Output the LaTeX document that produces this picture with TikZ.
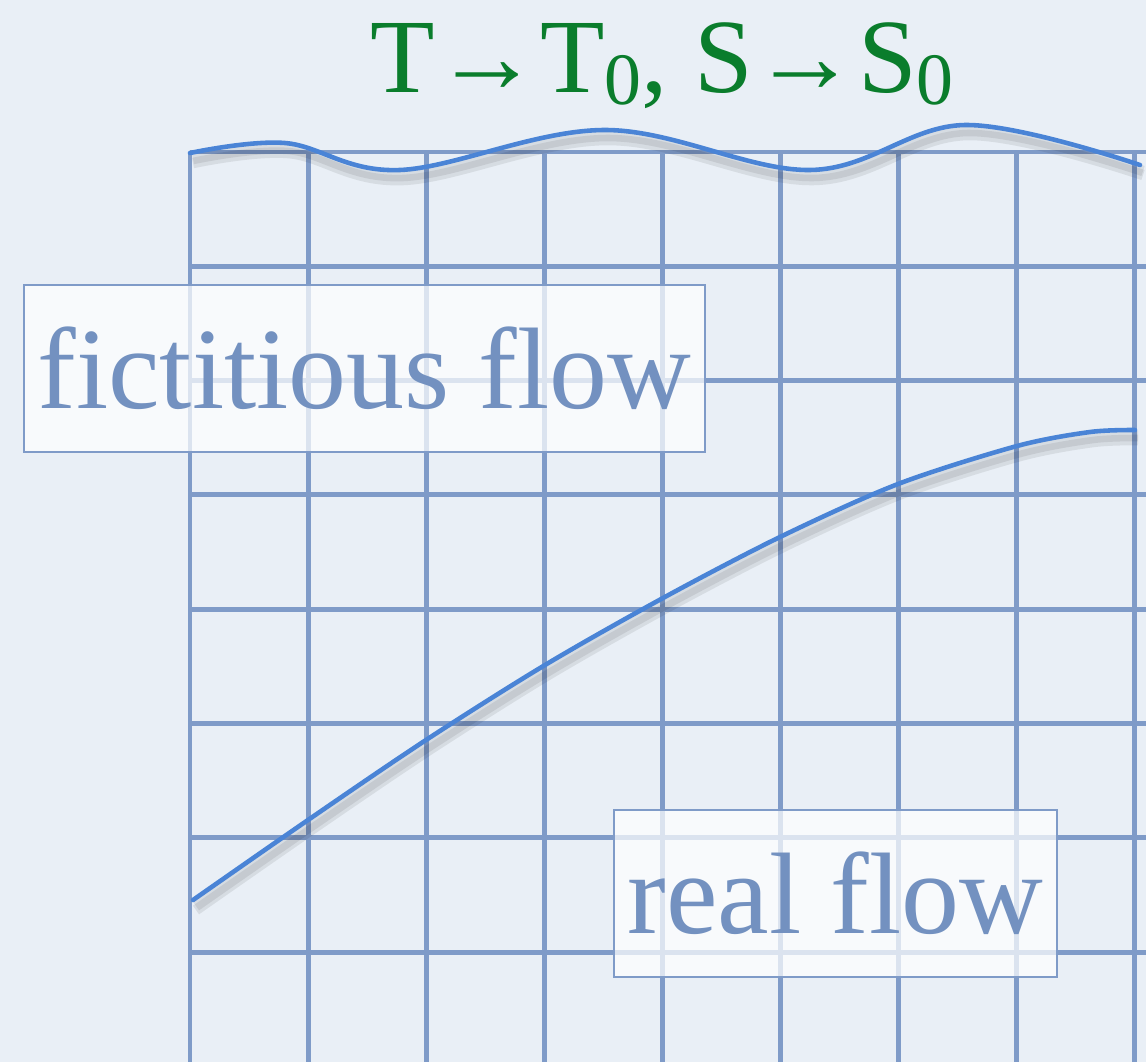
\documentclass[tikz,border=0pt]{standalone}
\usepackage{fontspec}
\setmainfont{Liberation Serif}
\usepackage{tikz}
\definecolor{paper}{HTML}{E9EFF6}
\definecolor{gridline}{HTML}{7F9BC8}
\definecolor{flowline}{HTML}{4A84D6}
\definecolor{labeltext}{HTML}{7391C0}
\definecolor{titlegreen}{HTML}{0A7D2C}

\begin{document}
\begin{tikzpicture}[
        x=0.2mm,y=-0.2mm,
        gridln/.style={draw=gridline,line width=2.8pt},
        flow/.style={draw=flowline,line width=2.6pt,line cap=round},
        shade/.style={draw=black,opacity=0.08,line width=6pt},
        tag/.style={draw=gridline,line width=1.2pt,fill=white,fill opacity=0.72,
          text opacity=1,text=labeltext,inner sep=0pt,minimum height=33.4mm,
          font=\fontsize{66}{66}\selectfont}
      ]
      \fill[paper] (0,0) rectangle (1146,1062);
      \useasboundingbox (0,0) rectangle (1146,1062);
      % grid
      \foreach \i in {0,...,8}
        \draw[gridln] (190+118.1*\i,152) -- (190+118.1*\i,1062);
      \foreach \j in {0,...,7}
        \draw[gridln] (190,152+114.3*\j) -- (1146,152+114.3*\j);
      % free surface
      \foreach \s in {6,10}
        \draw[shade,shift={(3,\s)}] plot[smooth,tension=0.6] coordinates
          {(190,153) (285,143) (400,170) (605,130) (810,170) (965,125) (1140,165)};
      \draw[flow] plot[smooth,tension=0.6] coordinates
        {(190,153) (285,143) (400,170) (605,130) (810,170) (965,125) (1140,165)};
      % streamline
      \foreach \s in {6,10}
        \draw[shade,shift={(3,\s)}] plot[smooth] coordinates
          {(193,900) (308,820) (426,740) (545,665) (663,598) (780,537) (898,484) (1017,446) (1090,432) (1135,430)};
      \draw[flow] plot[smooth] coordinates
        {(193,900) (308,820) (426,740) (545,665) (663,598) (780,537) (898,484) (1017,446) (1090,432) (1135,430)};
      % labels
      \node[tag,minimum width=136.2mm] (fict) at (364.5,368.5) {fictitious flow};
      \node[tag,minimum width=88.6mm] (real) at (835.5,893.5) {real flow};
      \node[text=titlegreen,font=\fontsize{60}{60}\selectfont,anchor=base] (swap) at (662,92)
        {T→T\raisebox{-0.12em}{\fontsize{42}{42}\selectfont 0}, S→S\raisebox{-0.12em}{\fontsize{42}{42}\selectfont 0}};
    \end{tikzpicture}
\end{document}
